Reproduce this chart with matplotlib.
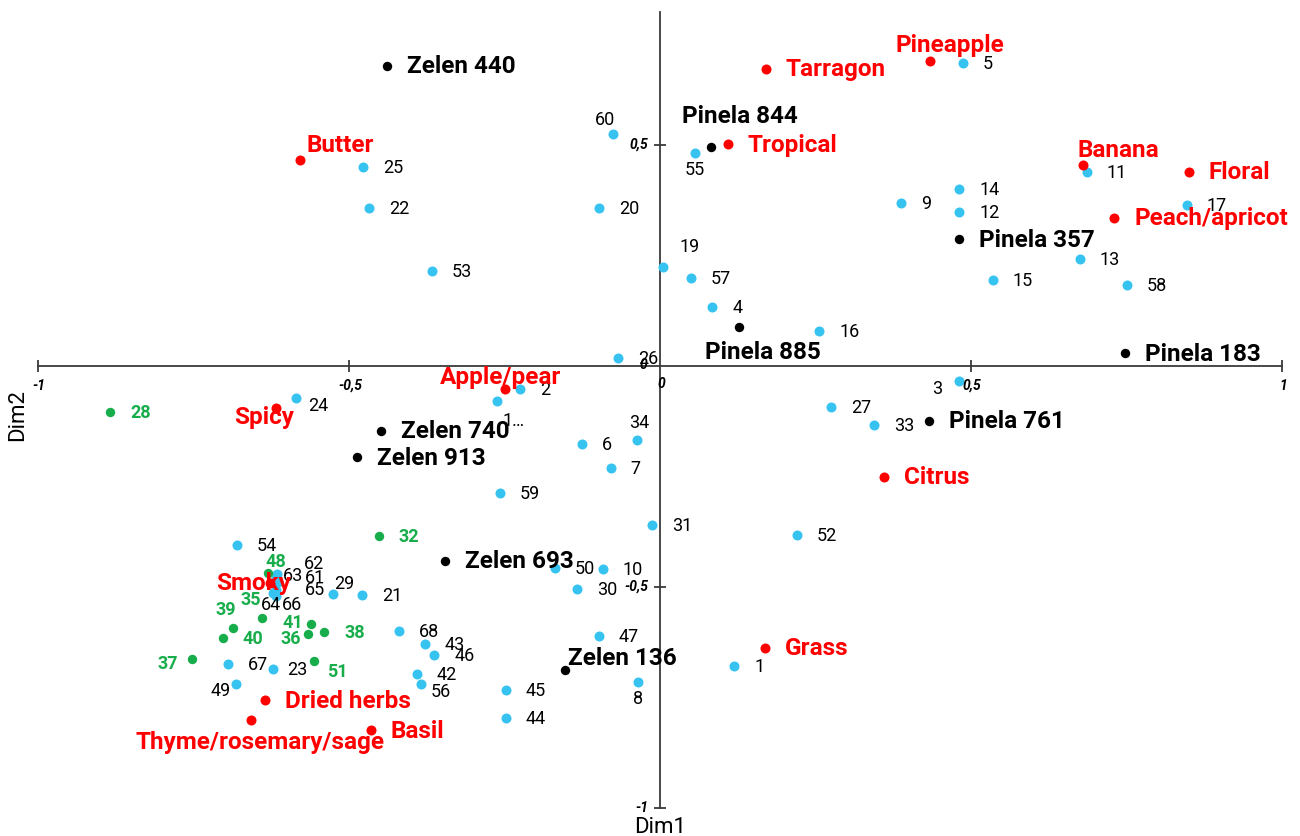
import matplotlib
matplotlib.use("Agg")
import matplotlib.pyplot as plt

plt.rcParams['font.family'] = ['Roboto', 'DejaVu Sans']

# ---------------- data (Dim1, Dim2 coordinates) ----------------
# Panelist / sample points (blue)
blue_ids = ["5", "60", "55", "25", "22", "20", "14", "9", "12", "11", "17", "13", "15", "58",
            "19", "57", "4", "16", "53", "26", "3", "27", "33", "24", "2", "1\u2026", "6", "34",
            "7", "59", "31", "52", "10", "50", "30", "47", "8", "1", "45", "44", "54",
            "62", "63", "61", "65", "64", "66", "29", "21", "68", "43", "46", "42", "56",
            "67", "23", "49"]
blue_x = [0.487, -0.076, 0.056, -0.477, -0.468, -0.098, 0.481, 0.387, 0.481, 0.686, 0.847, 0.675, 0.535, 0.751,
          0.005, 0.050, 0.084, 0.256, -0.367, -0.068, 0.481, 0.275, 0.344, -0.585, -0.225, -0.262, -0.125, -0.037,
          -0.079, -0.257, -0.013, 0.220, -0.092, -0.169, -0.133, -0.098, -0.035, 0.119, -0.248, -0.248, -0.680,
          -0.616, -0.617, -0.614, -0.617, -0.622, -0.617, -0.526, -0.479, -0.420, -0.378, -0.363, -0.391, -0.384,
          -0.695, -0.622, -0.682]
blue_y = [0.686, 0.525, 0.482, 0.450, 0.357, 0.357, 0.400, 0.369, 0.348, 0.439, 0.364, 0.242, 0.195, 0.183,
          0.224, 0.199, 0.133, 0.079, 0.215, 0.018, -0.034, -0.093, -0.133, -0.072, -0.052, -0.079, -0.176, -0.167,
          -0.231, -0.287, -0.360, -0.382, -0.459, -0.457, -0.505, -0.611, -0.715, -0.679, -0.733, -0.796, -0.405,
          -0.471, -0.480, -0.489, -0.507, -0.514, -0.520, -0.516, -0.518, -0.600, -0.629, -0.654, -0.697, -0.719,
          -0.674, -0.686, -0.719]

# Green points
green_ids = ["28", "32", "48", "35", "39", "40", "41", "36", "38", "37", "51"]
green_x = [-0.884, -0.452, -0.630, -0.640, -0.686, -0.703, -0.561, -0.566, -0.540, -0.752, -0.556]
green_y = [-0.104, -0.385, -0.468, -0.570, -0.593, -0.615, -0.584, -0.606, -0.602, -0.663, -0.667]

# Sensory attributes (red)
attr_names = ["Pineapple", "Tarragon", "Tropical", "Butter", "Banana", "Floral", "Peach/apricot",
              "Apple/pear", "Spicy", "Citrus", "Smoky", "Grass", "Dried herbs", "Basil",
              "Thyme/rosemary/sage"]
attr_x = [0.434, 0.170, 0.109, -0.579, 0.680, 0.850, 0.730, -0.249, -0.617, 0.360, -0.627, 0.169,
          -0.635, -0.465, -0.658]
attr_y = [0.690, 0.672, 0.502, 0.466, 0.455, 0.439, 0.335, -0.052, -0.095, -0.251, -0.491, -0.638,
          -0.756, -0.824, -0.801]

# Products (black)
prod_names = ["Zelen 440", "Pinela 844", "Pinela 357", "Pinela 885", "Pinela 183", "Pinela 761",
              "Zelen 740", "Zelen 913", "Zelen 693", "Zelen 136"]
prod_x = [-0.439, 0.082, 0.481, 0.127, 0.748, 0.432, -0.449, -0.487, -0.346, -0.153]
prod_y = [0.679, 0.495, 0.287, 0.088, 0.029, -0.124, -0.147, -0.206, -0.441, -0.688]

x_ticks = [-1, -0.5, 0.5, 1]
x_tick_labels = ["-1", "-0,5", "0,5", "1"]
y_ticks = [0.5, -0.5, -1]
y_tick_labels = ["0,5", "-0,5", "-1"]

# ---------------- label placement (screen pixels, y downward) ----------------
DEFAULT = (20, 1, 'left')
blue_off = {
    "60": (-8, -14, 'center'), "55": (0, 17, 'center'), "19": (27, -20, 'center'),
    "3": (-22, 8, 'center'), "34": (2, -17, 'center'), "1\u2026": (5, 20, 'left'),
    "8": (0, 17, 'center'), "24": (12, 8, 'left'), "29": (1, -10, 'left'),
    "56": (10, 8, 'left'), "23": (14, 1, 'left'), "49": (-15, 7, 'center'),
    "62": (37, -10, 'center'), "63": (17, -2, 'center'), "61": (37, -4, 'center'),
    "65": (39, 0, 'center'), "64": (-2, 12, 'center'), "66": (16, 9, 'center'),
}
green_off = {
    "48": (8, -11, 'center'), "35": (-11, -18, 'center'), "39": (-8, -18, 'center'),
    "41": (-18, -1, 'center'), "36": (-17, 5, 'center'), "37": (-25, 5, 'center'),
    "51": (23, 11, 'center'),
}
attr_off = {
    "Pineapple": (20, -16, 'center'), "Butter": (40, -15, 'center'), "Banana": (35, -14, 'center'),
    "Apple/pear": (-5, -11, 'center'), "Spicy": (-12, 10, 'center'), "Smoky": (-17, 0, 'center'),
    "Thyme/rosemary/sage": (9, 22, 'center'),
}
prod_off = {
    "Pinela 844": (29, -31, 'center'), "Pinela 885": (24, 25, 'center'), "Zelen 136": (3, -12, 'left'),
}

BLUE = '#36C3F0'
GREEN = '#17AD4B'
RED = '#FF0000'
AXC = '#3a3a3a'

fig = plt.figure(figsize=(13, 8.36), dpi=100)
ax = fig.add_axes([0, 0, 1, 1])
ax.set_xlim(-660 / 622, 640 / 622)
ax.set_ylim(-470 / 442, 366 / 442)
ax.axis('off')

# axes lines
ax.plot([-1, 1], [0, 0], color=AXC, lw=1.3, zorder=1)
ax.plot([0, 0], [-1, 0.80], color=AXC, lw=1.3, zorder=1)
ax.plot(x_ticks, [0] * len(x_ticks), ls='none', marker='|', ms=9, mew=1.3, color=AXC)
ax.plot([0] * len(y_ticks), y_ticks, ls='none', marker='_', ms=9, mew=1.3, color=AXC)

tickfont = dict(fontsize=10, fontweight='bold', fontstyle='italic', color='black')
for t, lab in zip(x_ticks, x_tick_labels):
    ax.annotate(lab, (t, 0), xytext=(1, -20), textcoords='offset pixels',
                ha='center', va='center', **tickfont)
for t, lab in zip(y_ticks, y_tick_labels):
    ax.annotate(lab, (0, t), xytext=(-12, 0), textcoords='offset pixels',
                ha='right', va='center', **tickfont)
ax.annotate("0", (0, 0), xytext=(-13, 1), textcoords='offset pixels', ha='right', va='center', **tickfont)
ax.annotate("0", (0, 0), xytext=(1, -18), textcoords='offset pixels', ha='center', va='center', **tickfont)

ax.text(0, -1.043, "Dim1", ha='center', va='center', fontsize=16)
ax.annotate("Dim2", (-1, 0), xytext=(-20, -49), textcoords='offset pixels',
            rotation=90, ha='center', va='center', fontsize=16)


def place(xs, ys, labels, offs, color, size, weight, dot_color, ms):
    ax.scatter(xs, ys, s=ms, color=dot_color, zorder=2, linewidths=0)
    for x, y, lab in zip(xs, ys, labels):
        dx, dy, ha = offs.get(lab, DEFAULT)
        ax.annotate(lab, (x, y), xytext=(dx, -dy), textcoords='offset pixels',
                    ha=ha, va='center', fontsize=size, fontweight=weight, color=color, zorder=4)


place(blue_x, blue_y, blue_ids, blue_off, 'black', 13, 'normal', BLUE, 52)
place(green_x, green_y, green_ids, green_off, GREEN, 13, 'bold', GREEN, 46)
place(attr_x, attr_y, attr_names, attr_off, RED, 17.5, 'bold', RED, 52)
place(prod_x, prod_y, prod_names, prod_off, 'black', 17.5, 'bold', 'black', 46)

fig.savefig("out.png", dpi=100)
